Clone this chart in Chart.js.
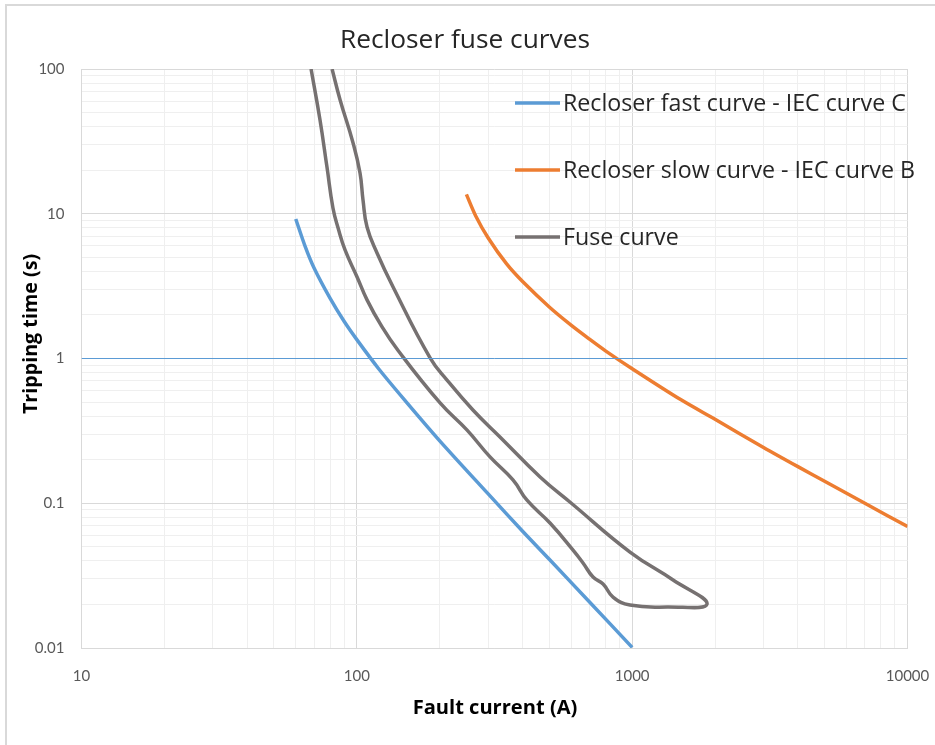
<!DOCTYPE html>
<html>
<head>
<meta charset="utf-8">
<script src="https://cdn.jsdelivr.net/npm/chart.js@4.4.1/dist/chart.umd.min.js"></script>
<style>
  body { margin: 0; background: #fff; }
  .frame { position: absolute; left: 5px; top: 4px; width: 940px; height: 750px;
           border-left: 2px solid #d9d9d9; border-top: 2px solid #d9d9d9; }
  .box { position: absolute; left: 0; top: 0; width: 935px; height: 745px; }
</style>
</head>
<body>
<div class="frame"></div>
<div class="box"><canvas id="myChart" width="935" height="745"></canvas></div>
<script>
// values (current in A, time in s)
const fastCurrent = [60, 65, 70, 80, 90, 100, 120, 150, 200, 300, 400, 500, 700, 1000]
const fastTime = [9.2, 5.9, 4.2, 2.6, 1.8, 1.35, 0.85, 0.51, 0.27, 0.116, 0.064, 0.041, 0.0208, 0.0101]

const slowCurrent = [250, 270, 300, 350, 400, 500, 600, 700, 800, 1000, 1500, 2000, 3000, 4000, 5000, 7000, 10000]
const slowTime = [13.6, 9.7, 6.8, 4.5, 3.4, 2.27, 1.7, 1.36, 1.13, 0.85, 0.52, 0.38, 0.243, 0.179, 0.142, 0.1, 0.069]

// fuse curve is one path: down the melt curve, along the bottom, back up the clearing curve
const fuseCurrent = [68.2, 73.5, 77.9, 81.9, 85.5, 90.6, 100.2, 108.9, 122.4, 141, 200.6, 251, 304.6, 369, 415, 503, 610, 663, 721, 784, 852, 982, 1340, 1870,
                     1408, 982, 600, 463, 331, 264, 212.6, 184.5, 135.4, 118.4, 108.9, 105.3, 102.7, 96.9, 86.9, 81.3]
const fuseTime = [100, 44.4, 21.0, 10.96, 7.97, 5.62, 3.66, 2.54, 1.70, 1.14, 0.493, 0.321, 0.209, 0.145, 0.105, 0.073, 0.0475, 0.0387, 0.0309, 0.0277, 0.0225, 0.0198, 0.0192, 0.0201,
                  0.0295, 0.046, 0.1004, 0.152, 0.287, 0.441, 0.71, 1.01, 3.12, 5.36, 8.1, 12.45, 19.1, 30.8, 61.4, 100]

// thin reference line at 1 s
const refCurrent = [10, 10000]
const refTime = [1, 1]

const xTickLabels = [10, 100, 1000, 10000]
const yTickLabels = [0.01, 0.1, 1, 10, 100]

const seriesNames = ['Recloser fast curve - IEC curve C', 'Recloser slow curve - IEC curve B', 'Fuse curve']
const seriesColors = ['#5b9bd5', '#ed7d31', '#767171']

function toPoints(xs, ys) {
    return xs.map((x, i) => ({x: x, y: ys[i]}))
}

// major decades plus the 2..9 minor lines in between
function logTicks(majors) {
    let out = []
    for (let i = 0; i < majors.length; i++) {
        out.push({value: majors[i], major: true})
        if (i < majors.length - 1) {
            for (let k = 2; k <= 9; k++) out.push({value: +(majors[i] * k).toPrecision(6), major: false})
        }
    }
    return out
}

// font size so that text spans the given width
function fitFont(ctx, text, width, weight, family) {
    ctx.font = weight + ' 100px ' + family
    let size = width * 100 / ctx.measureText(text).width
    return weight + ' ' + size.toFixed(1) + 'px ' + family
}

const textPlugin = {
    id: 'texts',
    afterDraw(chart) {
        const ctx = chart.ctx
        ctx.save()
        ctx.textAlign = 'center'
        ctx.textBaseline = 'middle'

        // title
        ctx.font = fitFont(ctx, 'Recloser fuse curves', 250, '400', '"Open Sans"')
        ctx.fillStyle = '#262626'
        ctx.fillText('Recloser fuse curves', 465, 41)

        // axis titles
        ctx.fillStyle = '#000'
        ctx.font = fitFont(ctx, 'Fault current (A)', 165, 'bold', '"Open Sans"')
        ctx.fillText('Fault current (A)', 495, 708)
        ctx.save()
        ctx.translate(31, 334)
        ctx.rotate(-Math.PI / 2)
        ctx.font = fitFont(ctx, 'Tripping time (s)', 160, 'bold', '"Open Sans"')
        ctx.fillText('Tripping time (s)', 0, 0)
        ctx.restore()

        // legend inside the plot
        ctx.textAlign = 'left'
        ctx.font = fitFont(ctx, seriesNames[0], 343, '400', '"Open Sans"')
        const rows = [103, 170, 237]
        for (let i = 0; i < 3; i++) {
            ctx.strokeStyle = seriesColors[i]
            ctx.lineWidth = 3.5
            ctx.beginPath()
            ctx.moveTo(515, rows[i])
            ctx.lineTo(560, rows[i])
            ctx.stroke()
            ctx.fillStyle = '#262626'
            ctx.fillText(seriesNames[i], 563, rows[i] + 1)
        }
        ctx.restore()
    }
}

const ctx = document.getElementById('myChart').getContext('2d')
const myChart = new Chart(ctx, {
    type: 'scatter',
    data: {
        datasets: [
            {label: 'ref', data: toPoints(refCurrent, refTime), showLine: true, borderColor: '#5b9bd5', borderWidth: 1, pointRadius: 0},
            {label: seriesNames[0], data: toPoints(fastCurrent, fastTime), showLine: true, borderColor: seriesColors[0], borderWidth: 3.5, pointRadius: 0, tension: 0.3},
            {label: seriesNames[1], data: toPoints(slowCurrent, slowTime), showLine: true, borderColor: seriesColors[1], borderWidth: 3.5, pointRadius: 0, tension: 0.3},
            {label: seriesNames[2], data: toPoints(fuseCurrent, fuseTime), showLine: true, borderColor: seriesColors[2], borderWidth: 3.5, pointRadius: 0, tension: 0.45}
        ]
    },
    options: {
        responsive: false,
        animation: false,
        layout: {padding: {top: 69, right: 27.5, bottom: 0, left: 0}},
        plugins: {legend: {display: false}, tooltip: {enabled: false}},
        scales: {
            x: {
                type: 'logarithmic', min: 10, max: 10000,
                afterFit: s => { s.height = 97; s.paddingLeft = 0; s.paddingRight = 0 },
                afterBuildTicks: s => { s.ticks = logTicks(xTickLabels) },
                border: {color: '#d9d9d9'},
                grid: {drawTicks: false, color: c => c.tick && c.tick.major ? '#d9d9d9' : '#efefef'},
                ticks: {
                    autoSkip: false, maxRotation: 0, padding: 19, color: '#595959',
                    font: {family: 'Lato', size: 15},
                    callback: (v, i, t) => t[i].major ? String(v) : ''
                }
            },
            y: {
                type: 'logarithmic', min: 0.01, max: 100,
                afterFit: s => { s.width = 81.5; s.paddingTop = 0; s.paddingBottom = 0 },
                afterBuildTicks: s => { s.ticks = logTicks(yTickLabels) },
                border: {color: '#d9d9d9'},
                grid: {drawTicks: false, color: c => c.tick && c.tick.major ? '#d9d9d9' : '#efefef'},
                ticks: {
                    autoSkip: false, padding: 17, color: '#595959',
                    font: {family: 'Lato', size: 15},
                    callback: (v, i, t) => t[i].major ? String(v) : ''
                }
            }
        }
    },
    plugins: [textPlugin]
})
</script>
</body>
</html>
